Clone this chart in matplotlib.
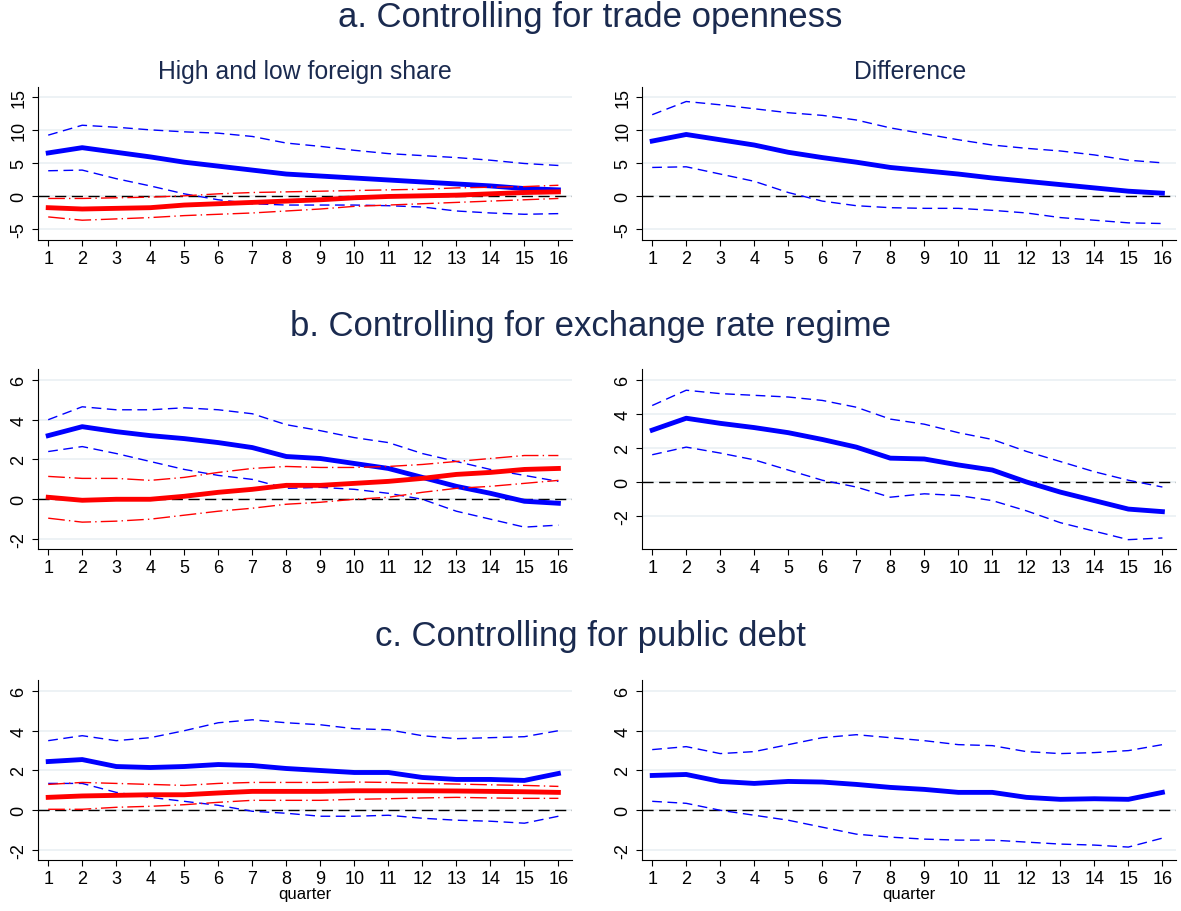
import numpy as np
import matplotlib
matplotlib.use("Agg")
import matplotlib.pyplot as plt

plt.rcParams["font.family"] = ["Liberation Sans", "DejaVu Sans"]

quarters = np.arange(1, 17)

# a. trade openness
a_hi = [6.5, 7.3, 6.6, 5.9, 5.1, 4.5, 3.9, 3.3, 3.0, 2.7, 2.4, 2.1, 1.8, 1.5, 1.1, 0.9]
a_hi_up = [9.2, 10.7, 10.4, 10.0, 9.7, 9.5, 9.0, 8.0, 7.5, 6.9, 6.4, 6.1, 5.8, 5.4, 4.9, 4.6]
a_hi_lo = [3.8, 3.9, 2.6, 1.5, 0.3, -0.6, -1.2, -1.4, -1.4, -1.4, -1.5, -1.7, -2.3, -2.6, -2.8, -2.7]
a_lo = [-1.8, -2.0, -1.9, -1.8, -1.4, -1.2, -1.0, -0.8, -0.6, -0.3, -0.1, 0.0, 0.1, 0.3, 0.5, 0.6]
a_lo_up = [-0.4, -0.4, -0.3, -0.2, 0.0, 0.3, 0.5, 0.6, 0.7, 0.8, 0.9, 1.0, 1.2, 1.3, 1.4, 1.6]
a_lo_lo = [-3.2, -3.7, -3.5, -3.3, -3.0, -2.8, -2.6, -2.3, -2.0, -1.6, -1.4, -1.2, -1.0, -0.8, -0.6, -0.4]
a_diff = [8.3, 9.3, 8.5, 7.7, 6.6, 5.8, 5.1, 4.3, 3.8, 3.3, 2.7, 2.2, 1.7, 1.2, 0.7, 0.4]
a_diff_up = [12.3, 14.3, 13.8, 13.2, 12.6, 12.2, 11.5, 10.3, 9.4, 8.5, 7.7, 7.2, 6.8, 6.2, 5.4, 5.0]
a_diff_lo = [4.3, 4.4, 3.3, 2.2, 0.5, -0.8, -1.5, -1.8, -1.9, -1.9, -2.2, -2.6, -3.3, -3.7, -4.1, -4.2]

# b. exchange rate regime
b_hi = [3.2, 3.65, 3.4, 3.2, 3.05, 2.85, 2.6, 2.15, 2.05, 1.8, 1.55, 1.1, 0.65, 0.3, -0.1, -0.2]
b_hi_up = [4.0, 4.65, 4.5, 4.5, 4.6, 4.5, 4.3, 3.75, 3.45, 3.1, 2.85, 2.3, 1.9, 1.5, 1.2, 0.9]
b_hi_lo = [2.4, 2.65, 2.3, 1.9, 1.5, 1.2, 1.0, 0.55, 0.6, 0.5, 0.3, 0.0, -0.6, -1.0, -1.4, -1.3]
b_lo = [0.1, -0.05, 0.0, 0.0, 0.15, 0.35, 0.5, 0.7, 0.7, 0.8, 0.9, 1.05, 1.25, 1.35, 1.5, 1.55]
b_lo_up = [1.15, 1.05, 1.05, 0.95, 1.1, 1.35, 1.55, 1.65, 1.6, 1.6, 1.65, 1.75, 1.9, 2.05, 2.2, 2.2]
b_lo_lo = [-0.95, -1.15, -1.1, -1.0, -0.8, -0.6, -0.45, -0.25, -0.15, 0.0, 0.1, 0.35, 0.55, 0.65, 0.8, 0.95]
b_diff = [3.05, 3.75, 3.45, 3.2, 2.9, 2.5, 2.05, 1.4, 1.35, 1.0, 0.7, 0.0, -0.6, -1.1, -1.6, -1.75]
b_diff_up = [4.5, 5.4, 5.2, 5.1, 5.0, 4.8, 4.4, 3.7, 3.4, 2.9, 2.5, 1.8, 1.2, 0.6, 0.1, -0.3]
b_diff_lo = [1.6, 2.05, 1.7, 1.3, 0.7, 0.1, -0.3, -0.9, -0.7, -0.8, -1.1, -1.7, -2.4, -2.9, -3.4, -3.3]

# c. public debt
c_hi = [2.45, 2.55, 2.2, 2.15, 2.2, 2.3, 2.25, 2.1, 2.0, 1.9, 1.9, 1.65, 1.55, 1.55, 1.5, 1.85]
c_hi_up = [3.5, 3.75, 3.5, 3.65, 4.0, 4.4, 4.55, 4.4, 4.3, 4.1, 4.05, 3.75, 3.6, 3.65, 3.7, 4.0]
c_hi_lo = [1.35, 1.35, 0.9, 0.65, 0.45, 0.25, -0.05, -0.15, -0.3, -0.3, -0.25, -0.4, -0.5, -0.55, -0.65, -0.3]
c_lo = [0.65, 0.72, 0.75, 0.78, 0.78, 0.87, 0.95, 0.95, 0.95, 0.98, 0.98, 0.98, 0.97, 0.95, 0.93, 0.9]
c_lo_up = [1.3, 1.4, 1.35, 1.3, 1.25, 1.35, 1.4, 1.4, 1.4, 1.42, 1.4, 1.35, 1.32, 1.28, 1.25, 1.2]
c_lo_lo = [0.05, 0.05, 0.15, 0.2, 0.28, 0.4, 0.5, 0.5, 0.5, 0.55, 0.58, 0.62, 0.65, 0.62, 0.6, 0.6]
c_diff = [1.75, 1.8, 1.45, 1.35, 1.45, 1.42, 1.3, 1.15, 1.05, 0.9, 0.9, 0.65, 0.55, 0.58, 0.55, 0.9]
c_diff_up = [3.05, 3.2, 2.85, 2.95, 3.3, 3.65, 3.8, 3.65, 3.5, 3.3, 3.25, 2.95, 2.85, 2.9, 3.0, 3.3]
c_diff_lo = [0.45, 0.35, 0.0, -0.25, -0.5, -0.85, -1.2, -1.35, -1.45, -1.5, -1.5, -1.6, -1.7, -1.75, -1.85, -1.4]

navy = "#1a2a4f"
W, H = 1181, 912


def make_ax(l, b, r, t, ylim, yticks, xlabel=False):
    ax = fig.add_axes([l / W, 1 - b / H, (r - l) / W, (b - t) / H])
    ax.set_xlim(0.7, 16.4)
    ax.set_ylim(*ylim)
    ax.set_xticks(quarters)
    ax.set_yticks(yticks)
    ax.set_yticklabels([str(v) for v in yticks], rotation=90, va="center")
    ax.tick_params(labelsize=13, length=4)
    for s in ["top", "right"]:
        ax.spines[s].set_visible(False)
    ax.grid(axis="y", color="#eaf0f4", lw=1.2)
    ax.set_axisbelow(True)
    ax.axhline(0, color="black", lw=1, dashes=(8, 4))
    if xlabel:
        ax.set_xlabel("quarter", fontsize=12, labelpad=-1)
    return ax


def band(ax, mid, up, lo, color, thick=3.5, dash=(7, 4)):
    ax.plot(quarters, mid, color=color, lw=thick)
    ax.plot(quarters, up, color=color, lw=1, dashes=dash)
    ax.plot(quarters, lo, color=color, lw=1, dashes=dash)


fig = plt.figure(figsize=(W / 100, H / 100), dpi=100)
red_dash = (12, 3, 1, 3)

rows = [
    (241, 88, (-6.7, 16.5), (-6.7, 16.5), [-5, 0, 5, 10, 15], [-5, 0, 5, 10, 15],
     (a_hi, a_hi_up, a_hi_lo, a_lo, a_lo_up, a_lo_lo, a_diff, a_diff_up, a_diff_lo)),
    (550, 370, (-2.5, 6.55), (-3.95, 6.65), [-2, 0, 2, 4, 6], [-2, 0, 2, 4, 6],
     (b_hi, b_hi_up, b_hi_lo, b_lo, b_lo_up, b_lo_lo, b_diff, b_diff_up, b_diff_lo)),
    (861, 681, (-2.5, 6.55), (-2.5, 6.55), [-2, 0, 2, 4, 6], [-2, 0, 2, 4, 6],
     (c_hi, c_hi_up, c_hi_lo, c_lo, c_lo_up, c_lo_lo, c_diff, c_diff_up, c_diff_lo)),
]

for i, (bot, top, yl1, yl2, yt1, yt2, d) in enumerate(rows):
    last = i == 2
    ax1 = make_ax(38, bot, 572, top, yl1, yt1, last)
    band(ax1, d[0], d[1], d[2], "blue")
    band(ax1, d[3], d[4], d[5], "red", dash=red_dash)
    ax2 = make_ax(642, bot, 1176, top, yl2, yt2, last)
    band(ax2, d[6], d[7], d[8], "blue")

fig.text(0.5, 1 - 18 / H, "a. Controlling for trade openness", ha="center", va="center",
         fontsize=25, color=navy)
fig.text(305 / W, 1 - 72 / H, "High and low foreign share", ha="center", va="center",
         fontsize=17.8, color=navy)
fig.text(910 / W, 1 - 72 / H, "Difference", ha="center", va="center", fontsize=17.8, color=navy)
fig.text(0.5, 1 - 327 / H, "b. Controlling for exchange rate regime", ha="center", va="center",
         fontsize=25, color=navy)
fig.text(0.5, 1 - 637 / H, "c. Controlling for public debt", ha="center", va="center",
         fontsize=25, color=navy)

fig.savefig("out.png", dpi=100)
